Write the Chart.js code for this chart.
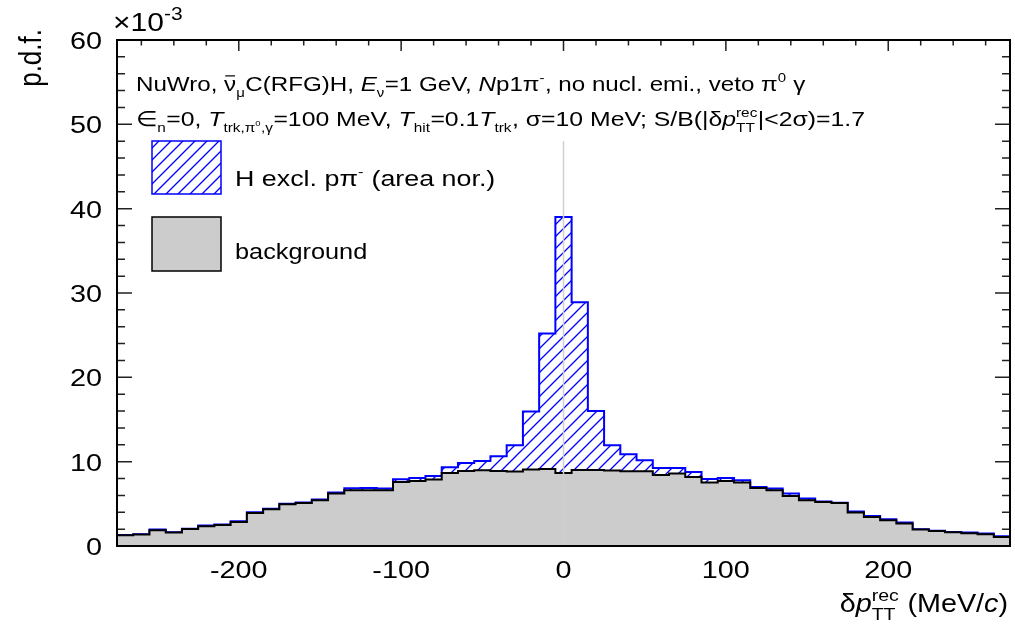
<!DOCTYPE html>
<html>
<head>
<meta charset="utf-8">
<script src="https://cdn.jsdelivr.net/npm/chart.js@4.4.0/dist/chart.umd.min.js"></script>
<style>
html,body{margin:0;padding:0;background:#fff}
</style>
</head>
<body>
<canvas id="c" width="1015" height="635"></canvas>
<script>
// bin centres (MeV/c), 10 MeV bins from -275 to 275
const binCenters=[-270,-260,-250,-240,-230,-220,-210,-200,-190,-180,-170,-160,-150,-140,-130,-120,-110,-100,-90,-80,-70,-60,-50,-40,-30,-20,-10,0,10,20,30,40,50,60,70,80,90,100,110,120,130,140,150,160,170,180,190,200,210,220,230,240,250,260,270];
// blue histogram (H excl. p pi- on top of background), units 1e-3
const totalVals=[1.30,1.38,1.95,1.62,2.06,2.42,2.55,2.92,4.00,4.42,5.02,5.17,5.50,6.34,6.85,6.88,6.81,7.91,8.07,8.31,9.34,9.85,10.09,10.64,11.95,15.95,25.2,39.0,28.9,16.0,11.95,10.88,10.17,9.25,9.25,8.78,7.95,8.07,7.80,7.00,6.81,6.22,5.62,5.27,5.14,4.08,3.56,3.17,2.78,2.00,1.82,1.66,1.59,1.47,1.15];
// grey background histogram
const bkgVals=[1.27,1.35,1.86,1.59,2.02,2.34,2.49,2.85,3.92,4.35,4.95,5.10,5.42,6.22,6.61,6.61,6.61,7.60,7.71,7.88,8.66,8.90,8.98,8.90,8.83,9.06,9.14,8.66,9.02,9.02,8.95,8.86,8.86,8.42,8.59,8.19,7.52,7.71,7.52,6.88,6.61,5.93,5.42,5.22,5.10,3.96,3.44,3.05,2.66,1.95,1.78,1.62,1.51,1.39,1.07];
const zeroLineY=[0,48];
const xTicks=[-200,-100,0,100,200];
const yTicks=[0,10,20,30,40,50,60];
const binW=10;

let SX=1.2; // text is stretched horizontally in the original
const FONT='"Liberation Sans", Arial, sans-serif';

function steps(vals){
  const pts=vals.map((v,i)=>({x:binCenters[i]-binW/2,y:v}));
  pts.push({x:binCenters[binCenters.length-1]+binW/2,y:vals[vals.length-1]});
  return pts;
}

function makeHatch(ctx){
  const c=document.createElement('canvas');
  c.width=12;c.height=12;
  const g=c.getContext('2d');
  g.strokeStyle='#0000ff';
  g.lineWidth=1.3;
  g.beginPath();
  g.moveTo(0,12);g.lineTo(12,0);
  g.moveTo(-2,2);g.lineTo(2,-2);
  g.moveTo(10,14);g.lineTo(14,10);
  g.stroke();
  return ctx.createPattern(c,'repeat');
}

function fnt(size,it){return (it?'italic ':'')+size+'px '+FONT;}

function runParts(ctx,parts,size,draw,x0,dy){
  let x=x0;
  for(const p of parts){
    if(typeof p==='string'){
      ctx.font=fnt(size);
      if(draw)ctx.fillText(p,x,dy);
      x+=ctx.measureText(p).width;
      continue;
    }
    if(p.sub||p.sup){
      const s=size*(p.k||0.62);
      let w=0;
      if(p.sub)w=Math.max(w,runParts(ctx,p.sub,s,draw,x,dy+size*0.3));
      if(p.sup)w=Math.max(w,runParts(ctx,p.sup,s,draw,x,dy-size*0.45));
      x+=w+size*0.02;
      continue;
    }
    ctx.font=fnt(size,p.i);
    const w=ctx.measureText(p.t).width;
    if(draw){
      ctx.fillText(p.t,x,dy);
      if(p.bar){
        ctx.save();ctx.lineWidth=1.2;ctx.strokeStyle='#000';
        ctx.beginPath();ctx.moveTo(x+1,dy-size*0.72);ctx.lineTo(x+w-1,dy-size*0.72);ctx.stroke();
        ctx.restore();
      }
    }
    x+=w;
  }
  return x-x0;
}

function drawRich(ctx,parts,x,y,size,align,rot,sx){
  const k=sx||SX;
  ctx.save();
  ctx.translate(x,y);
  if(rot){ctx.rotate(-Math.PI/2);ctx.scale(1,k);}else ctx.scale(k,1);
  ctx.fillStyle='#000';
  ctx.textBaseline='alphabetic';
  ctx.textAlign='left';
  const w=runParts(ctx,parts,size,false,0,0);
  const x0=align==='right'?-w:align==='center'?-w/2:0;
  runParts(ctx,parts,size,true,x0,0);
  ctx.restore();
}

let hatch=null;

const rootFrame={
  id:'rootFrame',
  beforeDatasetsDraw(chart){
    const {ctx,chartArea:a,scales:{x,y}}=chart;
    ctx.save();
    ctx.strokeStyle='#222';
    ctx.lineWidth=1.5;
    ctx.beginPath();
    for(let v=-260;v<=260;v+=20){
      const major=xTicks.includes(v);
      const L=major?11:5.5;
      const px=x.getPixelForValue(v);
      ctx.moveTo(px,a.bottom);ctx.lineTo(px,a.bottom-L);
      ctx.moveTo(px,a.top);ctx.lineTo(px,a.top+L);
    }
    for(let v=2;v<60;v+=2){
      const major=yTicks.includes(v);
      const L=major?15:8;
      const py=y.getPixelForValue(v);
      ctx.moveTo(a.left,py);ctx.lineTo(a.left+L,py);
      ctx.moveTo(a.right,py);ctx.lineTo(a.right-L,py);
    }
    ctx.stroke();
    ctx.restore();
  },
  afterDatasetsDraw(chart){
    const {ctx,chartArea:a,scales:{x,y}}=chart;
    ctx.save();
    ctx.strokeStyle='#000';
    ctx.lineWidth=2;
    ctx.strokeRect(a.left,a.top,a.right-a.left,a.bottom-a.top);
    ctx.restore();

    // tick labels
    xTicks.forEach(v=>drawRich(ctx,[String(v)],x.getPixelForValue(v),578,24,'center'));
    yTicks.forEach(v=>drawRich(ctx,[String(v)],102,y.getPixelForValue(v)+9,24,'right'));

    // axis titles
    drawRich(ctx,['×10',{sup:['-3'],k:0.7}],113,31,25,'left');
    drawRich(ctx,['p.d.f.'],41,29,26,'right',true);
    drawRich(ctx,['δ',{t:'p',i:1},{sub:['TT'],sup:['rec'],k:0.68},' (MeV/',{t:'c',i:1},')'],1008,612,25,'right',false,1.15);

    // header text
    drawRich(ctx,['NuWro, ',{t:'ν',bar:1},{sub:['μ']},'C(RFG)H, ',{t:'E',i:1},{sub:['ν']},'=1 GeV, ',{t:'N',i:1},'p1π',{sup:['-']},', no nucl. emi., veto π',{sup:['0']},' γ'],136,91,21,'left',false,1.15);
    drawRich(ctx,['∈',{sub:['n']},'=0, ',{t:'T',i:1},{sub:['trk,π',{sup:['0']},',γ']},'=100 MeV, ',{t:'T',i:1},{sub:['hit']},'=0.1',{t:'T',i:1},{sub:['trk']},', σ=10 MeV; S/B(|δ',{t:'p',i:1},{sub:['TT'],sup:['rec']},'|<2σ)=1.7'],136,126,21,'left',false,1.18);

    // legend
    ctx.save();
    ctx.fillStyle=hatch;
    ctx.fillRect(152,141,69,53);
    ctx.strokeStyle='#0000ff';ctx.lineWidth=1.5;
    ctx.strokeRect(152,141,69,53);
    ctx.fillStyle='#cccccc';
    ctx.fillRect(152,217,69,54);
    ctx.strokeStyle='#000';
    ctx.strokeRect(152,217,69,54);
    ctx.restore();
    drawRich(ctx,['H excl. pπ',{sup:['-']},' (area nor.)'],235,186,22,'left',false,1.22);
    drawRich(ctx,['background'],235,259,22,'left',false,1.15);
  }
};

const canvas=document.getElementById('c');
const ctx=canvas.getContext('2d');
hatch=makeHatch(ctx);

new Chart(canvas,{
  type:'line',
  data:{datasets:[
    {data:[{x:0,y:zeroLineY[0]},{x:0,y:zeroLineY[1]}],borderColor:'#cfcfcf',borderWidth:1.5,pointRadius:0,fill:false,order:-1},
    {data:steps(bkgVals),stepped:'before',borderColor:'#000',borderWidth:2,backgroundColor:'#cccccc',fill:'origin',pointRadius:0,order:0},
    {data:steps(totalVals),stepped:'before',borderColor:'#0000ff',borderWidth:2,backgroundColor:hatch,fill:'origin',pointRadius:0,order:1}
  ]},
  options:{
    responsive:false,
    animation:false,
    devicePixelRatio:1,
    layout:{padding:{top:40,right:5,left:0,bottom:0}},
    plugins:{legend:{display:false},tooltip:{enabled:false}},
    scales:{
      x:{type:'linear',min:-275,max:275,grid:{display:false},border:{display:false},ticks:{display:false},afterFit(s){s.height=89;}},
      y:{type:'linear',min:0,max:60,grid:{display:false},border:{display:false},ticks:{display:false},afterFit(s){s.width=117;}}
    }
  },
  plugins:[rootFrame]
});
</script>
</body>
</html>
